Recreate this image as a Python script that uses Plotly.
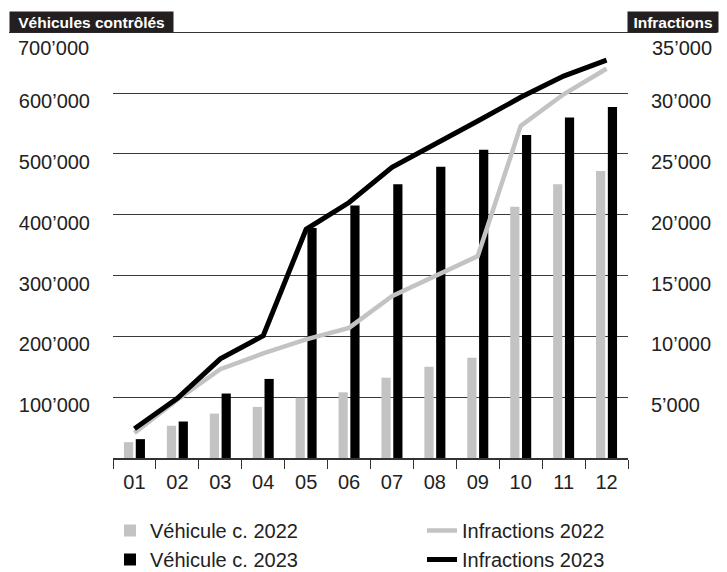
import plotly.graph_objects as go

# ---------------- data ----------------
months = ["01", "02", "03", "04", "05", "06", "07", "08", "09", "10", "11", "12"]
vehicules_2022 = [26000, 53000, 73000, 84000, 99000, 108000, 132000, 150000, 165000, 413000, 450000, 472000]
vehicules_2023 = [31000, 60000, 106000, 130000, 378000, 415000, 450000, 479000, 507000, 531000, 560000, 577000]
infractions_2022 = [2050, 4800, 7300, 8600, 9750, 10700, 13300, 15000, 16600, 27300, 29900, 32000]
infractions_2023 = [2400, 4900, 8150, 10050, 18800, 21000, 23900, 25750, 27700, 29650, 31400, 32700]

left_tickvals = [100000, 200000, 300000, 400000, 500000, 600000]
left_ticktext = ["100’000", "200’000", "300’000", "400’000", "500’000", "600’000"]
left_top_value, left_top_text = 700000, "700’000"
right_tickvals = [5000, 10000, 15000, 20000, 25000, 30000]
right_ticktext = ["5’000", "10’000", "15’000", "20’000", "25’000", "30’000"]
right_top_value, right_top_text = 35000, "35’000"

FONT = "Liberation Sans, Arial, Helvetica, sans-serif"
GRAY = "#c3c3c3"
BLACK = "#000000"

OFF = 8  # page body margin
W, H = 727 - OFF, 572 - OFF
ML, MR, MT, MB = 105, 99, 24, 114
PW = W - ML - MR
PH = H - MT - MB


def px_x(p):
    """page pixel x -> paper x"""
    return (p - OFF - ML) / PW


def px_y(p):
    """page pixel y -> paper y"""
    return (H - MB - (p - OFF)) / PH


fig = go.Figure()

fig.add_trace(go.Bar(x=months, y=vehicules_2022, name="Véhicule c. 2022",
                     marker=dict(color=GRAY, line=dict(width=0)), legend="legend"))
fig.add_trace(go.Bar(x=months, y=vehicules_2023, name="Véhicule c. 2023",
                     marker=dict(color=BLACK, line=dict(width=0)), legend="legend"))
fig.add_trace(go.Scatter(x=months, y=infractions_2022, name="Infractions 2022", mode="lines",
                         line=dict(color=GRAY, width=4.5), yaxis="y2", legend="legend2"))
fig.add_trace(go.Scatter(x=months, y=infractions_2023, name="Infractions 2023", mode="lines",
                         line=dict(color=BLACK, width=5), yaxis="y2", legend="legend2"))

fig.update_layout(
    width=W, height=H,
    margin=dict(l=ML, r=MR, t=MT, b=MB, autoexpand=False),
    paper_bgcolor="white", plot_bgcolor="white",
    font=dict(family=FONT, size=20, color="#222222"),
    barmode="group", bargap=0.45, bargroupgap=0.22,
    xaxis=dict(type="category", showgrid=False, showline=True, linecolor="#333333", linewidth=1.5,
               ticks="outside", tickson="boundaries", ticklen=9, tickwidth=1.3, tickcolor="#333333",
               tickfont=dict(size=20, color="#222222"), ticklabelstandoff=5, fixedrange=True),
    yaxis=dict(range=[0, 700400], tickvals=left_tickvals + [left_top_value],
               ticktext=left_ticktext + [""],
               showgrid=True, gridcolor="#3a3a3a", gridwidth=1.3, zeroline=False, showline=False,
               ticks="", tickfont=dict(size=20, color="#222222"), ticklabelstandoff=22,
               ticklabelshift=8),
    yaxis2=dict(range=[0, 35020], tickvals=right_tickvals + [right_top_value],
                ticktext=right_ticktext + [""],
                overlaying="y", side="right", showgrid=False, zeroline=False, showline=False,
                ticks="", tickfont=dict(size=20, color="#222222"), ticklabelstandoff=22,
                ticklabelshift=8),
    legend=dict(x=px_x(110), y=px_y(511), xanchor="left", yanchor="top",
                orientation="v", font=dict(size=20, color="#222222"), bgcolor="rgba(0,0,0,0)",
                traceorder="normal", tracegroupgap=0),
    legend2=dict(x=px_x(422), y=px_y(511), xanchor="left", yanchor="top",
                 orientation="v", font=dict(size=20, color="#222222"), bgcolor="rgba(0,0,0,0)",
                 traceorder="normal", tracegroupgap=0),
    showlegend=True,
)

# header line joining the two axis title boxes
fig.add_shape(type="line", xref="paper", yref="y", x0=px_x(9), x1=px_x(717), y0=700000, y1=700000,
              line=dict(color="#333333", width=1.3), layer="above")

# top tick labels (placed a little lower, below the header boxes)
fig.add_annotation(text=left_top_text, xref="paper", yref="paper", x=px_x(91), y=px_y(48),
                   xanchor="right", yanchor="middle", showarrow=False,
                   font=dict(size=20, color="#222222"))
fig.add_annotation(text=right_top_text, xref="paper", yref="paper", x=px_x(650), y=px_y(48),
                   xanchor="left", yanchor="middle", showarrow=False,
                   font=dict(size=20, color="#222222"))

# axis title boxes
fig.add_annotation(text="<b>Véhicules contrôlés</b>", xref="paper", yref="paper",
                   x=px_x(9), y=px_y(33), xanchor="left", yanchor="bottom",
                   showarrow=False, bgcolor="#231f20", width=163, height=20, borderpad=0,
                   align="center", font=dict(family=FONT, size=15.5, color="white"))
fig.add_annotation(text="<b>Infractions</b>", xref="paper", yref="paper",
                   x=px_x(627), y=px_y(33), xanchor="left", yanchor="bottom",
                   showarrow=False, bgcolor="#231f20", width=90, height=20, borderpad=0,
                   align="center", font=dict(family=FONT, size=15.5, color="white"))

fig.write_html("out.html")
